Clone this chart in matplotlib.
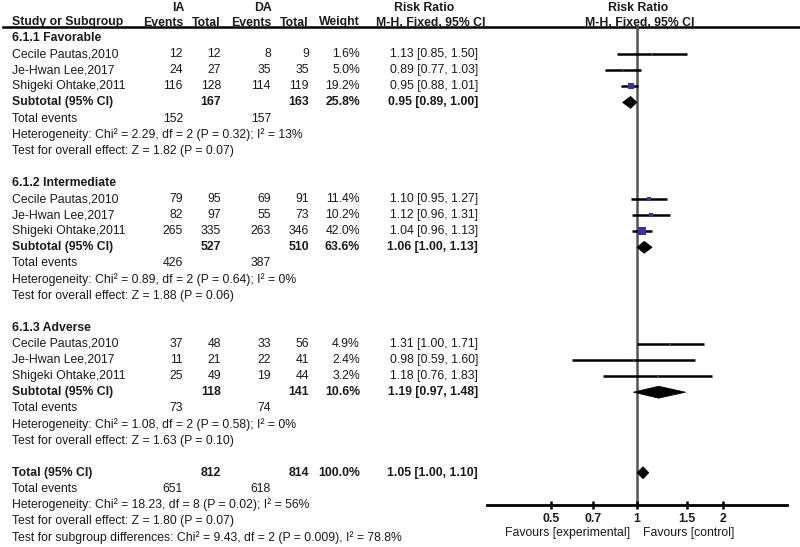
#!/usr/bin/python

### MODULES ###
import numpy as np
import matplotlib
matplotlib.use('Agg')
import matplotlib.pyplot as plt
from matplotlib.patches import Polygon

### VARIABLES ###
plt.rcParams['font.family'] = ['Liberation Sans', 'DejaVu Sans']
fs = 8.8
ink = '#1a1a1a'
blau = '#3b2fa5'

groups = ['6.1.1 Favorable', '6.1.2 Intermediate', '6.1.3 Adverse']
studies = ['Cecile Pautas,2010', 'Je-Hwan Lee,2017', 'Shigeki Ohtake,2011']

ia_events = [[12, 24, 116], [79, 82, 265], [37, 11, 25]]
ia_total = [[12, 27, 128], [95, 97, 335], [48, 21, 49]]
da_events = [[8, 35, 114], [69, 55, 263], [33, 22, 19]]
da_total = [[9, 35, 119], [91, 73, 346], [56, 41, 44]]
weights = [[1.6, 5.0, 19.2], [11.4, 10.2, 42.0], [4.9, 2.4, 3.2]]
rr = [[1.13, 0.89, 0.95], [1.10, 1.12, 1.04], [1.31, 0.98, 1.18]]
rr_lo = [[0.85, 0.77, 0.88], [0.95, 0.96, 0.96], [1.00, 0.59, 0.76]]
rr_hi = [[1.50, 1.03, 1.01], [1.27, 1.31, 1.13], [1.71, 1.60, 1.83]]

sub_ia_total = [167, 527, 118]
sub_da_total = [163, 510, 141]
sub_weight = [25.8, 63.6, 10.6]
sub_rr = [0.95, 1.06, 1.19]
sub_lo = [0.89, 1.00, 0.97]
sub_hi = [1.00, 1.13, 1.48]
sub_ia_ev = [152, 426, 73]
sub_da_ev = [157, 387, 74]
sub_het = ['Heterogeneity: Chi\u00b2 = 2.29, df = 2 (P = 0.32); I\u00b2 = 13%',
	'Heterogeneity: Chi\u00b2 = 0.89, df = 2 (P = 0.64); I\u00b2 = 0%',
	'Heterogeneity: Chi\u00b2 = 1.08, df = 2 (P = 0.58); I\u00b2 = 0%']
sub_z = ['Test for overall effect: Z = 1.82 (P = 0.07)',
	'Test for overall effect: Z = 1.88 (P = 0.06)',
	'Test for overall effect: Z = 1.63 (P = 0.10)']

tot_ia_total = 812
tot_da_total = 814
tot_weight = 100.0
tot_rr, tot_lo, tot_hi = 1.05, 1.00, 1.10
tot_ia_ev = 651
tot_da_ev = 618
tot_lines = ['Heterogeneity: Chi\u00b2 = 18.23, df = 8 (P = 0.02); I\u00b2 = 56%',
	'Test for overall effect: Z = 1.80 (P = 0.07)',
	'Test for subgroup differences: Chi\u00b2 = 9.43, df = 2 (P = 0.009), I\u00b2 = 78.8%']

xticks = [0.5, 0.7, 1, 1.5, 2]
xtick_labels = ['0.5', '0.7', '1', '1.5', '2']

### LAYOUT (pixels) ###
W, H = 800, 547
y0 = 38.0
dy = 16.1
x_name = 12
x_iae, x_iat, x_dae, x_dat, x_w, x_rr = 183, 221, 271, 309, 360, 478
ax_left, ax_right = 487, 787
ax_top, ax_bot = 27, 505
lnrange = 1.21

def row(i):
	return y0 + dy * i

def rrtxt(e, l, h):
	return '%.2f [%.2f, %.2f]' % (e, l, h)

### HAUPT ###
fig = plt.figure(figsize=(W / 100, H / 100), dpi=100)
ax = fig.add_axes([0, 0, 1, 1])
ax.set_xlim(0, W)
ax.set_ylim(H, 0)
ax.axis('off')

fa = fig.add_axes([ax_left / W, 1 - ax_bot / H, (ax_right - ax_left) / W, (ax_bot - ax_top) / H])
fa.set_xscale('log')
fa.set_xlim(np.exp(-lnrange), np.exp(lnrange))
fa.set_ylim(ax_bot, ax_top)
fa.patch.set_alpha(0)
for s in ['top', 'left', 'right']:
	fa.spines[s].set_visible(False)
fa.spines['bottom'].set_linewidth(2)
fa.set_yticks([])
fa.set_xticks(xticks)
fa.set_xticklabels(xtick_labels, fontweight='bold', fontsize=fs, color=ink)
fa.minorticks_off()
fa.tick_params(axis='x', direction='inout', length=5.5, width=1.8, pad=3)
fa.axvline(1, color='#555555', lw=1.8, zorder=1)

def txt(x, y, s, ha='left', bold=False, va='center'):
	ax.text(x, y, s, ha=ha, va=va, fontsize=fs, color=ink,
		fontweight='bold' if bold else 'normal')

# header
ax.plot([3, W], [26.5, 26.5], color='black', lw=1.8)
txt(178, 11, 'IA', ha='center', bold=True, va='baseline')
txt(263, 11, 'DA', ha='center', bold=True, va='baseline')
txt(424, 11, 'Risk Ratio', ha='center', bold=True, va='baseline')
txt(638, 11, 'Risk Ratio', ha='center', bold=True, va='baseline')
txt(x_name, 25.5, 'Study or Subgroup', bold=True, va='baseline')
txt(x_iae, 25.5, 'Events', ha='right', bold=True, va='baseline')
txt(x_iat, 25.5, 'Total', ha='right', bold=True, va='baseline')
txt(x_dae, 25.5, 'Events', ha='right', bold=True, va='baseline')
txt(x_dat, 25.5, 'Total', ha='right', bold=True, va='baseline')
txt(x_w, 25.5, 'Weight', ha='right', bold=True, va='baseline')
txt(431, 25.5, 'M-H, Fixed, 95% CI', ha='center', bold=True, va='baseline')
txt(640, 25.5, 'M-H, Fixed, 95% CI', ha='center', bold=True, va='baseline')

def diamond(y, e, l, h):
	pts = [(l, y), (e, y - 6), (h, y), (e, y + 6)]
	fa.add_patch(Polygon(pts, closed=True, facecolor='black', edgecolor='black', lw=0.5, zorder=4))

i = 0
for g in range(len(groups)):
	txt(x_name, row(i), groups[g], bold=True)
	i += 1
	for k in range(len(studies)):
		y = row(i)
		txt(x_name, y, studies[k])
		txt(x_iae, y, str(ia_events[g][k]), ha='right')
		txt(x_iat, y, str(ia_total[g][k]), ha='right')
		txt(x_dae, y, str(da_events[g][k]), ha='right')
		txt(x_dat, y, str(da_total[g][k]), ha='right')
		txt(x_w, y, '%.1f%%' % weights[g][k], ha='right')
		txt(x_rr, y, rrtxt(rr[g][k], rr_lo[g][k], rr_hi[g][k]), ha='right')
		fa.plot([rr_lo[g][k], rr_hi[g][k]], [y, y], color='black', lw=1.8, zorder=2, solid_capstyle='butt')
		side = max(2.0, 8.0 * np.sqrt(weights[g][k] / 42.0))
		fa.plot([rr[g][k]], [y], marker='s', ms=side * 0.72, color=blau, mec=blau, mew=0, zorder=3)
		i += 1
	y = row(i)
	txt(x_name, y, 'Subtotal (95% CI)', bold=True)
	txt(x_iat, y, str(sub_ia_total[g]), ha='right', bold=True)
	txt(x_dat, y, str(sub_da_total[g]), ha='right', bold=True)
	txt(x_w, y, '%.1f%%' % sub_weight[g], ha='right', bold=True)
	txt(x_rr, y, rrtxt(sub_rr[g], sub_lo[g], sub_hi[g]), ha='right', bold=True)
	diamond(y, sub_rr[g], sub_lo[g], sub_hi[g])
	i += 1
	y = row(i)
	txt(x_name, y, 'Total events')
	txt(x_iae, y, str(sub_ia_ev[g]), ha='right')
	txt(x_dae, y, str(sub_da_ev[g]), ha='right')
	i += 1
	txt(x_name, row(i), sub_het[g])
	i += 1
	txt(x_name, row(i), sub_z[g])
	i += 2

# overall
y = row(i)
txt(x_name, y, 'Total (95% CI)', bold=True)
txt(x_iat, y, str(tot_ia_total), ha='right', bold=True)
txt(x_dat, y, str(tot_da_total), ha='right', bold=True)
txt(x_w, y, '%.1f%%' % tot_weight, ha='right', bold=True)
txt(x_rr, y, rrtxt(tot_rr, tot_lo, tot_hi), ha='right', bold=True)
diamond(y, tot_rr, tot_lo, tot_hi)
i += 1
y = row(i)
txt(x_name, y, 'Total events')
txt(x_iae, y, str(tot_ia_ev), ha='right')
txt(x_dae, y, str(tot_da_ev), ha='right')
i += 1
for s in tot_lines:
	txt(x_name, row(i), s)
	i += 1

txt(630, 533, 'Favours [experimental]', ha='right')
txt(643, 533, 'Favours [control]', ha='left')

### AUSGABE ###
fig.savefig('out.png', dpi=100)
